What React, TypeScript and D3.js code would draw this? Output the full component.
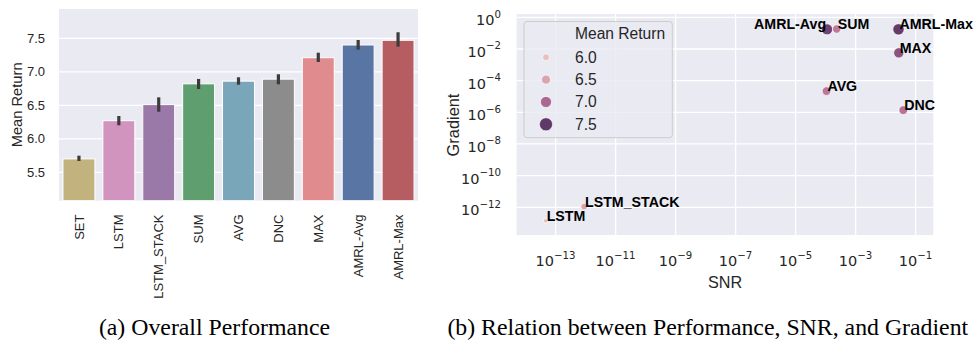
import React from 'react';
import * as d3 from 'd3';

// ---------- Panel (a) data ----------
const CATEGORIES = ['SET', 'LSTM', 'LSTM_STACK', 'SUM', 'AVG', 'DNC', 'MAX', 'AMRL-Avg', 'AMRL-Max'];
const MEAN_RETURN = [5.70, 6.27, 6.51, 6.82, 6.86, 6.89, 7.21, 7.40, 7.47];
const CI_LOW = [5.669, 6.201, 6.404, 6.743, 6.807, 6.813, 7.146, 7.330, 7.375];
const CI_HIGH = [5.748, 6.340, 6.619, 6.893, 6.918, 6.963, 7.285, 7.474, 7.590];
const BAR_COLORS = ['#c1b27e', '#d094bf', '#9a79a9', '#5f9e6e', '#79a6b8', '#8c8c8c', '#e08b8e', '#5975a4', '#b55d60'];
const BAR_Y_TICKS = [5.5, 6.0, 6.5, 7.0, 7.5];
const BAR_Y_DOMAIN = [5.076, 7.937];

// ---------- Panel (b) data ----------
const SC_NAMES = ['LSTM', 'LSTM_STACK', 'AMRL-Avg', 'SUM', 'AMRL-Max', 'MAX', 'AVG', 'DNC'];
const SC_SNR = [4.68e-14, 8.9e-13, 1.12e-4, 2.34e-4, 2.69e-2, 2.75e-2, 1.07e-4, 3.89e-2];
const SC_GRADIENT = [1.41e-13, 1.10e-12, 0.174, 0.182, 0.174, 5.75e-3, 2.19e-5, 1.38e-6];
const SC_X_TICK_EXP = [-13, -11, -9, -7, -5, -3, -1];
const SC_Y_TICK_EXP = [0, -2, -4, -6, -8, -10, -12];
const SC_X_DOMAIN = [Math.pow(10, -14.3), Math.pow(10, -0.41)];
const SC_Y_DOMAIN = [Math.pow(10, -13.75), Math.pow(10, 0.21)];
const LEGEND_VALUES = [6.0, 6.5, 7.0, 7.5];

const BG = '#eaeaf2';
const TXT = '#262626';
const SANS = '"Liberation Sans", Arial, sans-serif';
const MATH = '"DejaVu Sans", sans-serif';

// matplotlib/seaborn cubehelix colormap (start=0, rot=0.4, hue=0.8, gamma=1)
function cubehelix(x: number): string {
  const a = (0.8 * x * (1 - x)) / 2;
  const phi = 2 * Math.PI * (0.4 * x);
  const c = Math.cos(phi);
  const s = Math.sin(phi);
  const cl = (v: number) => Math.round(Math.max(0, Math.min(1, v)) * 255);
  const r = x + a * (-0.14861 * c + 1.78277 * s);
  const g = x + a * (-0.29227 * c - 0.90649 * s);
  const b = x + a * (1.97294 * c);
  return d3.rgb(cl(r), cl(g), cl(b)).formatHex();
}

const hueNorm = d3.scaleLinear().domain([7.0, 7.5]).range([0.5, 0.29]);
const colorFor = (v: number) => cubehelix(Math.max(0.15, Math.min(0.8, hueNorm(v))));

function Sup({ exp, x, y, anchor }: { exp: number; x: number; y: number; anchor: string }) {
  const s = exp < 0 ? '\u2212' + Math.abs(exp) : String(exp);
  return (
    <text x={x} y={y} textAnchor={anchor} fontFamily={MATH} fontSize={14.5} fill={TXT}>
      <tspan>10</tspan>
      <tspan dy={-7.5} fontSize={10.2}>{s}</tspan>
    </text>
  );
}

export default function App() {
  // ---------- Panel (a) ----------
  const aL = 59, aR = 418, aT = 9, aB = 200.7;
  const xBand = d3.scaleBand<string>().domain(CATEGORIES).range([aL, aR]).paddingInner(0.2).paddingOuter(0.1);
  const yBar = d3.scaleLinear().domain(BAR_Y_DOMAIN).range([aB, aT]);

  // ---------- Panel (b) ----------
  const bL = 516.6, bR = 933.3, bT = 14, bB = 235;
  const xLog = d3.scaleLog().domain(SC_X_DOMAIN).range([bL, bR]);
  const yLog = d3.scaleLog().domain(SC_Y_DOMAIN).range([bB, bT]);
  const retByName = (n: string) => MEAN_RETURN[CATEGORIES.indexOf(n)];
  const ptArea = d3.scaleLinear().domain([6.27, 7.47]).range([22, 128]);
  const ptR = (v: number) => Math.sqrt(ptArea(v)) / 2;
  const legR = d3.scaleLinear().domain([6.0, 7.5]).range([3.5, 6.6]);
  const legY = d3.scalePoint<number>().domain(LEGEND_VALUES).range([57.3, 124.3]);

  return (
    <svg width={975} height={341} style={{ position: 'absolute', left: 0, top: 0, background: '#fff' }}>
      {/* ===== Panel (a) ===== */}
      <rect x={aL} y={aT} width={aR - aL} height={aB - aT} fill={BG} />
      {BAR_Y_TICKS.map((t) => (
        <g key={'ya' + t}>
          <line x1={aL} x2={aR} y1={yBar(t)} y2={yBar(t)} stroke="#fff" strokeWidth={1.3} />
          <text x={45} y={yBar(t) + 4.6} textAnchor="end" fontFamily={SANS} fontSize={13} fill={TXT}>
            {t.toFixed(1)}
          </text>
        </g>
      ))}
      {CATEGORIES.map((c, i) => {
        const x = xBand(c)!;
        const y = yBar(MEAN_RETURN[i]);
        return (
          <rect key={'bar' + c} x={x} y={y} width={xBand.bandwidth()} height={aB - y}
            fill={BAR_COLORS[i]} stroke="#fff" strokeWidth={1} />
        );
      })}
      {CATEGORIES.map((c, i) => {
        const cx = xBand(c)! + xBand.bandwidth() / 2;
        return (
          <line key={'err' + c} x1={cx} x2={cx} y1={yBar(CI_LOW[i])} y2={yBar(CI_HIGH[i])}
            stroke="#3c3c3c" strokeWidth={3.2} />
        );
      })}
      {CATEGORIES.map((c) => {
        const cx = xBand(c)! + xBand.bandwidth() / 2;
        return (
          <text key={'xl' + c} transform={`translate(${cx + 4.6},214.5) rotate(-90)`} textAnchor="end"
            fontFamily={SANS} fontSize={13} fill={TXT}>
            {c}
          </text>
        );
      })}
      <text transform={`translate(21.5,${(aT + aB) / 2}) rotate(-90)`} textAnchor="middle"
        fontFamily={SANS} fontSize={14.7} fill={TXT}>
        Mean Return
      </text>
      <text x={214.5} y={335} textAnchor="middle" fontFamily={'"Liberation Serif", "Times New Roman", serif'}
        fontSize={23.8} fill="#000">
        (a) Overall Performance
      </text>

      {/* ===== Panel (b) ===== */}
      <rect x={bL} y={bT} width={bR - bL} height={bB - bT} fill={BG} />
      {SC_X_TICK_EXP.map((e) => (
        <g key={'xb' + e}>
          <line x1={xLog(Math.pow(10, e))} x2={xLog(Math.pow(10, e))} y1={bT} y2={bB} stroke="#fff" strokeWidth={1.3} />
          <Sup exp={e} x={xLog(Math.pow(10, e))} y={266} anchor="middle" />
        </g>
      ))}
      {SC_Y_TICK_EXP.map((e) => (
        <g key={'yb' + e}>
          <line x1={bL} x2={bR} y1={yLog(Math.pow(10, e))} y2={yLog(Math.pow(10, e))} stroke="#fff" strokeWidth={1.3} />
          <Sup exp={e} x={501} y={yLog(Math.pow(10, e)) + 8} anchor="end" />
        </g>
      ))}
      {/* Legend */}
      <rect x={524} y={21.5} width={148.3} height={116.2} rx={3} fill="rgba(234,234,242,0.8)" stroke="#cccccc" strokeWidth={1} />
      <text x={575} y={39} fontFamily={SANS} fontSize={15.6} fill={TXT}>Mean Return</text>
      {LEGEND_VALUES.map((v) => (
        <g key={'leg' + v}>
          <circle cx={546} cy={legY(v)!} r={legR(v)} fill={colorFor(v)} stroke="#fff" strokeWidth={0.7} />
          <text x={575} y={legY(v)! + 5.3} fontFamily={SANS} fontSize={15.6} fill={TXT}>{v.toFixed(1)}</text>
        </g>
      ))}
      {/* Points */}
      {SC_NAMES.map((n, i) => {
        const v = retByName(n);
        return (
          <circle key={'pt' + n} cx={xLog(SC_SNR[i])} cy={yLog(SC_GRADIENT[i])} r={ptR(v)}
            fill={colorFor(v)} stroke="#fff" strokeWidth={0.7} />
        );
      })}
      {SC_NAMES.map((n, i) => (
        <text key={'lab' + n} x={xLog(SC_SNR[i]) + (n === 'AMRL-Avg' ? -1 : 1)} y={yLog(SC_GRADIENT[i])}
          textAnchor={n === 'AMRL-Avg' ? 'end' : 'start'} fontFamily={SANS} fontWeight="bold" fontSize={14.2} fill="#000">
          {n}
        </text>
      ))}
      <text transform={`translate(459,125) rotate(-90)`} textAnchor="middle" fontFamily={SANS} fontSize={16.4} fill={TXT}>
        Gradient
      </text>
      <text x={725} y={288.3} textAnchor="middle" fontFamily={SANS} fontSize={16.2} fill={TXT}>SNR</text>
      <text x={707.8} y={335} textAnchor="middle" fontFamily={'"Liberation Serif", "Times New Roman", serif'}
        fontSize={23.8} fill="#000">
        (b) Relation between Performance, SNR, and Gradient
      </text>
    </svg>
  );
}
